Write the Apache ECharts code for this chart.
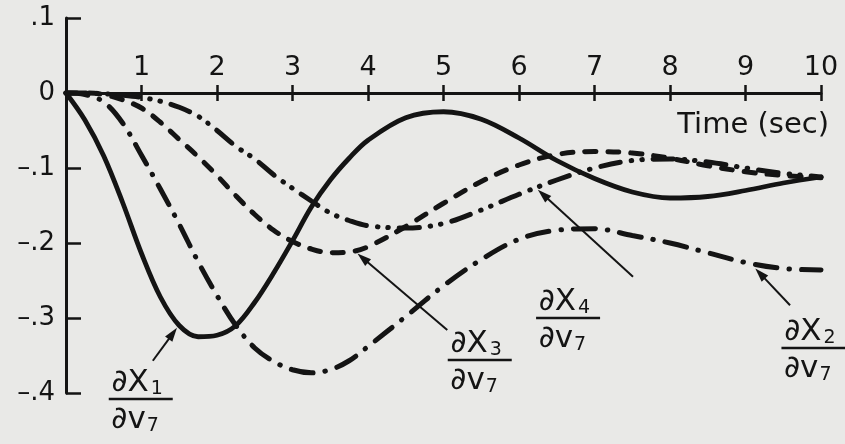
<!DOCTYPE html>
<html>
<head>
<meta charset="utf-8">
<script src="https://cdn.jsdelivr.net/npm/echarts@6/dist/echarts.min.js"></script>
<style>
  html, body { margin: 0; padding: 0; background: #e9e9e7; }
  #chart { width: 845px; height: 444px; }
</style>
</head>
<body>
<div id="chart"></div>
<script>
// Sensitivity responses of the four states to input v7, sampled over time (sec)
const times = [0, 0.25, 0.5, 0.75, 1, 1.25, 1.5, 1.75, 2, 2.25, 2.5, 2.75, 3, 3.25, 3.5, 3.75, 4,
               4.5, 5, 5.5, 6, 6.5, 7, 7.5, 8, 8.5, 9, 9.5, 10];

const dX1 = [0, -0.036, -0.084, -0.146, -0.214, -0.272, -0.31, -0.325, -0.323, -0.31, -0.279, -0.24,
             -0.197, -0.152, -0.116, -0.087, -0.063, -0.033, -0.025, -0.035, -0.06, -0.09, -0.114,
             -0.132, -0.14, -0.138, -0.13, -0.12, -0.112];

const dX2 = [0, -0.002, -0.012, -0.04, -0.083, -0.128, -0.175, -0.225, -0.27, -0.31, -0.34, -0.358,
             -0.369, -0.373, -0.369, -0.357, -0.338, -0.298, -0.257, -0.222, -0.195, -0.183, -0.181,
             -0.19, -0.2, -0.213, -0.226, -0.234, -0.236];

const dX3 = [0, 0, -0.002, -0.009, -0.02, -0.039, -0.062, -0.085, -0.11, -0.137, -0.162, -0.183,
             -0.198, -0.208, -0.213, -0.212, -0.205, -0.178, -0.147, -0.118, -0.096, -0.082, -0.078,
             -0.08, -0.087, -0.097, -0.105, -0.11, -0.113];

const dX4 = [0, 0, -0.001, -0.003, -0.006, -0.011, -0.019, -0.031, -0.05, -0.071, -0.088, -0.109,
             -0.127, -0.144, -0.16, -0.17, -0.177, -0.18, -0.174, -0.156, -0.135, -0.116, -0.1,
             -0.09, -0.088, -0.092, -0.1, -0.107, -0.112];

// Axis ranges and tick labelling
const timeRange = [0, 10];
const timeStep = 1;
const valueRange = [-0.4, 0.1];
const valueStep = 0.1;
const axisTitle = 'Time (sec)';

// Curve labels: state index, where the fraction sits, and where its arrow starts/ends (data units)
const curveLabels = [
  { state: '1', at: [0.99, -0.408], from: [1.15, -0.357], to: [1.47, -0.313] },
  { state: '3', at: [5.48, -0.356], from: [5.05, -0.316], to: [3.86, -0.214] },
  { state: '4', at: [6.65, -0.300], from: [7.51, -0.245], to: [6.25, -0.129] },
  { state: '2', at: [9.90, -0.340], from: [9.59, -0.283], to: [9.13, -0.234] }
];

const INK = '#141414';
const FONT = '"DejaVu Sans", sans-serif';

const pairs = vals => times.map((t, i) => [t, vals[i]]);

const yLabel = v => {
  const n = Math.round(v * 10);
  if (n === 0) return '0';
  return (n < 0 ? '\u2013.' : '.') + Math.abs(n);
};

const chart = echarts.init(document.getElementById('chart'), null, { renderer: 'canvas' });

const GRID = { left: 66, right: 24, top: 18, bottom: 51 };
// The time axis sits on value 0, but an on-zero axis keeps its labels at the grid edge,
// so the label margin is pulled back down by the distance between the edge and zero.
const plotH = 444 - GRID.top - GRID.bottom;
const zeroDrop = plotH * (valueRange[1] - 0) / (valueRange[1] - valueRange[0]);

const xAxisBase = {
  type: 'value',
  min: timeRange[0],
  max: timeRange[1],
  interval: timeStep,
  position: 'top',
  splitLine: { show: false }
};

chart.setOption({
  backgroundColor: '#e9e9e7',
  animation: false,
  grid: Object.assign({ containLabel: false, outerBoundsMode: 'none' }, GRID),
  xAxis: [
    Object.assign({}, xAxisBase, {
      axisLine: { show: true, onZero: true, onZeroAxisIndex: 0, lineStyle: { color: INK, width: 3 } },
      axisTick: { show: true, inside: false, length: 8, lineStyle: { color: INK, width: 2.5 } },
      axisLabel: {
        show: true, margin: 12 - zeroDrop, color: INK, fontSize: 27, fontFamily: FONT,
        formatter: v => (v === 0 ? '' : String(v))
      }
    }),
    Object.assign({}, xAxisBase, {
      axisLine: { show: false, onZero: true, onZeroAxisIndex: 0 },
      axisTick: { show: true, inside: true, length: 8, lineStyle: { color: INK, width: 2.5 } },
      axisLabel: { show: false }
    })
  ],
  yAxis: {
    type: 'value',
    min: valueRange[0],
    max: valueRange[1],
    interval: valueStep,
    splitLine: { show: false },
    axisLine: { show: true, onZero: false, lineStyle: { color: INK, width: 3 } },
    axisTick: { show: true, inside: true, length: 15, lineStyle: { color: INK, width: 2.5 } },
    axisLabel: {
      margin: 11, color: INK, fontSize: 26, fontFamily: FONT,
      padding: [6, 0, 0, 0], formatter: yLabel
    }
  },
  series: [
    {
      name: 'dX1', type: 'line', data: pairs(dX1), smooth: 0.35, showSymbol: false,
      lineStyle: { color: INK, width: 4.8, cap: 'round' }
    },
    {
      name: 'dX2', type: 'line', data: pairs(dX2), smooth: 0.35, showSymbol: false,
      lineStyle: { color: INK, width: 5, cap: 'round', type: [22, 12, 0.5, 12] }
    },
    {
      name: 'dX3', type: 'line', data: pairs(dX3), smooth: 0.35, showSymbol: false,
      lineStyle: { color: INK, width: 5, cap: 'round', type: [11, 12] }
    },
    {
      name: 'dX4', type: 'line', data: pairs(dX4), smooth: 0.35, showSymbol: false,
      lineStyle: { color: INK, width: 5, cap: 'round', type: [20, 11, 0.5, 10, 0.5, 11] }
    }
  ]
});

// Overlay text: axis title, and fraction labels with arrows pointing at their curves
function drawOverlay() {
  const toPx = p => chart.convertToPixel({ xAxisIndex: 0, yAxisIndex: 0 }, p);
  const els = [];

  const end = toPx([timeRange[1], 0]);
  els.push({
    type: 'text',
    style: { text: axisTitle, x: end[0] + 8, y: end[1] + 32, align: 'right', verticalAlign: 'middle',
             font: '29px ' + FONT, fill: INK }
  });

  curveLabels.forEach(lab => {
    const [cx, cy] = toPx(lab.at);
    els.push({ type: 'line', shape: { x1: cx - 32, y1: cy, x2: cx + 32, y2: cy },
               style: { stroke: INK, lineWidth: 2.4 } });
    els.push({ type: 'text', style: { text: '\u2202X', x: cx + 8, y: cy - 16, align: 'right',
               verticalAlign: 'middle', font: '31px ' + FONT, fill: INK } });
    els.push({ type: 'text', style: { text: lab.state, x: cx + 10, y: cy - 10, align: 'left',
               verticalAlign: 'middle', font: '19px ' + FONT, fill: INK } });
    els.push({ type: 'text', style: { text: '\u2202v', x: cx + 5, y: cy + 21, align: 'right',
               verticalAlign: 'middle', font: '31px ' + FONT, fill: INK } });
    els.push({ type: 'text', style: { text: '7', x: cx + 6, y: cy + 27, align: 'left',
               verticalAlign: 'middle', font: '19px ' + FONT, fill: INK } });

    const a = toPx(lab.from);
    const b = toPx(lab.to);
    const dx = b[0] - a[0], dy = b[1] - a[1];
    const len = Math.hypot(dx, dy);
    const ux = dx / len, uy = dy / len;
    const nx = -uy, ny = ux;
    const hl = 14, hw = 4.5;
    els.push({ type: 'line', shape: { x1: a[0], y1: a[1], x2: b[0] - ux * hl * 0.8, y2: b[1] - uy * hl * 0.8 },
               style: { stroke: INK, lineWidth: 2 } });
    els.push({ type: 'polygon', shape: { points: [
      [b[0], b[1]],
      [b[0] - ux * hl + nx * hw, b[1] - uy * hl + ny * hw],
      [b[0] - ux * hl - nx * hw, b[1] - uy * hl - ny * hw]
    ] }, style: { fill: INK } });
  });

  chart.setOption({ graphic: els });
}
drawOverlay();
</script>
</body>
</html>
